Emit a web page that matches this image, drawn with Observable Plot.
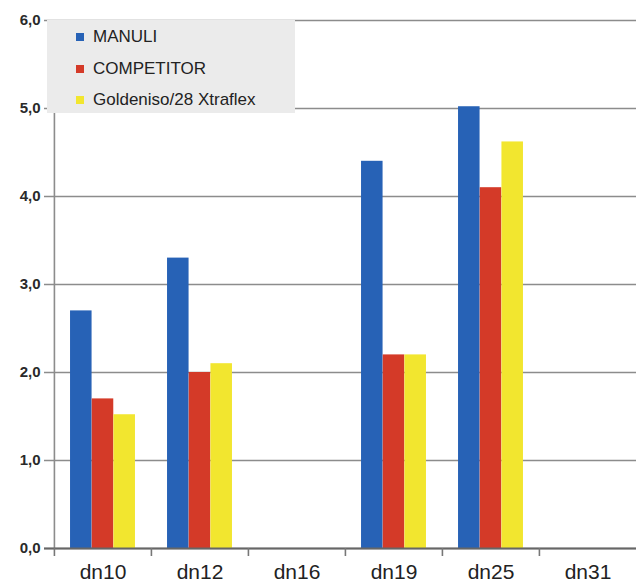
<!DOCTYPE html>
<html>
<head>
<meta charset="utf-8">
<script src="https://cdn.jsdelivr.net/npm/d3@7"></script>
<script src="https://cdn.jsdelivr.net/npm/@observablehq/plot@0.6"></script>
<style>
  html, body { margin: 0; padding: 0; background: #fff; overflow: hidden; }
  #wrap { position: relative; width: 636px; height: 583px; font-family: "Liberation Sans", Arial, sans-serif; }
  #legend { position: absolute; left: 47px; top: 20px; width: 248px; height: 93px; background: #ebebeb; }
  .item { position: absolute; left: 0; height: 20px; font-size: 17px; color: #222; line-height: 20px; }
  .sw { position: absolute; left: 29px; top: 6px; width: 8px; height: 8px; }
  .lab { position: absolute; left: 46px; top: 0; white-space: nowrap; }
</style>
</head>
<body>
<div id="wrap">
  <div id="chart"></div>
  <div id="legend"></div>
</div>
<script>
const categories = ["dn10", "dn12", "dn16", "dn19", "dn25", "dn31"];
const seriesNames = ["MANULI", "COMPETITOR", "Goldeniso/28 Xtraflex"];
const manuli     = [2.7, 3.3, null, 4.4, 5.02, null];
const competitor = [1.7, 2.0, null, 2.2, 4.1, null];
const goldeniso  = [1.52, 2.1, null, 2.2, 4.62, null];
const yTicks = [0, 1, 2, 3, 4, 5, 6];
const colors = ["#2762b6", "#d43a28", "#f2e62f"];

const seriesValues = [manuli, competitor, goldeniso];

const width = 636, height = 583;
const marginLeft = 53, marginRight = 0, marginTop = 20, marginBottom = 35;
const step = (width - marginLeft - marginRight) / categories.length;
const barW = 21.7;
const inset = (step - barW) / 2;
const frameH = height - marginTop - marginBottom;

const barMarks = seriesValues.map((vals, s) =>
  Plot.barY(categories.map((c, i) => ({cat: c, value: vals[i]})).filter(d => d.value != null), {
    x: "cat", y: "value", fill: colors[s],
    insetLeft: inset, insetRight: inset, dx: (s - 1) * barW
  })
);

const chart = Plot.plot({
  width, height, marginLeft, marginRight, marginTop, marginBottom,
  style: {fontFamily: "'Liberation Sans', Arial, sans-serif", background: "white", overflow: "visible"},
  x: {type: "band", domain: categories, padding: 0},
  y: {domain: [0, 6]},
  marks: [
    Plot.gridY(yTicks, {stroke: "#8c8c8c", strokeOpacity: 1, strokeWidth: 1.6, insetLeft: -9}),
    ...barMarks,
    Plot.ruleX([categories[0]], {x: d => d, dx: -step / 2, stroke: "#8c8c8c", strokeWidth: 1.6}),
    Plot.ruleY([0], {stroke: "#666", strokeWidth: 2, insetLeft: -9}),
    Plot.ruleX(categories, {x: d => d, dx: -step / 2, stroke: "#777", strokeWidth: 1.6, insetTop: frameH, insetBottom: -8}),
    Plot.axisY({ticks: yTicks, tickFormat: d => d.toFixed(1).replace(".", ","), tickSize: 0, tickPadding: 13,
      fontSize: 15, fontWeight: "bold", fill: "#2a2a2a", label: null}),
    Plot.axisX({tickSize: 0, tickPadding: 16, fontSize: 21, fill: "#222", label: null})
  ]
});
document.getElementById("chart").appendChild(chart);

const legend = document.getElementById("legend");
const rowTops = [7, 39, 70];
seriesNames.forEach((name, i) => {
  const it = document.createElement("div");
  it.className = "item";
  it.style.top = rowTops[i] + "px";
  it.innerHTML = `<span class="sw" style="background:${colors[i]}"></span><span class="lab">${name}</span>`;
  legend.appendChild(it);
});
</script>
</body>
</html>
